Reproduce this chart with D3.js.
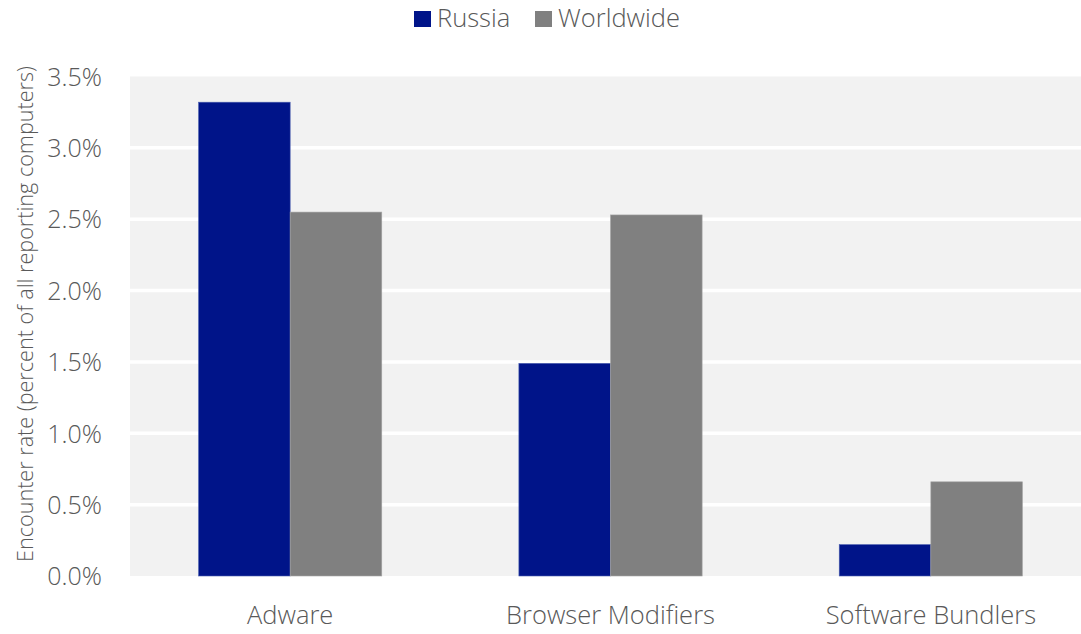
<!DOCTYPE html>
<html><head><meta charset="utf-8">
<script src="https://cdn.jsdelivr.net/npm/d3@7"></script>
<style>body{margin:0;background:#fff}svg text{font-family:"Open Sans","Noto Sans",sans-serif;fill:#595959;font-weight:300}</style>
</head><body><svg id="c" width="1081" height="634"></svg>
<script>
const categories = ["Adware", "Browser Modifiers", "Software Bundlers"];
const seriesNames = ["Russia", "Worldwide"];
const russia = [3.32, 1.49, 0.22];
const worldwide = [2.55, 2.53, 0.66];
const yTicks = [0, 0.5, 1.0, 1.5, 2.0, 2.5, 3.0, 3.5];
const colors = ["#001489", "#808080"];

(function () {
const svg = d3.select("#c");
const mLeft = 130, mRight = 1091, mTop = 76.5, mBottom = 576;
const x = d3.scaleBand().domain(categories).range([mLeft, mRight]).paddingInner(0).paddingOuter(0);
const y = d3.scaleLinear().domain([0, 3.5]).range([mBottom, mTop]);
const bw = x.bandwidth();
const groupW = bw * 0.572;
const xs = d3.scaleBand().domain(seriesNames).range([0, groupW]);

svg.append("rect").attr("x", mLeft).attr("y", mTop).attr("width", 1081 - mLeft).attr("height", mBottom - mTop).attr("fill", "#f2f2f2");

svg.append("g").selectAll("line").data(yTicks.filter(d => d > 0 && d < 3.5)).join("line")
  .attr("x1", mLeft).attr("x2", 1081).attr("y1", d => y(d)).attr("y2", d => y(d))
  .attr("stroke", "#fff").attr("stroke-width", 3.5);

const data = categories.map((c, i) => ({c, vals: [russia[i], worldwide[i]]}));
const g = svg.append("g");
data.forEach(d => {
  const x0 = x(d.c) + (bw - groupW) / 2;
  d.vals.forEach((v, j) => {
    g.append("rect").attr("x", x0 + xs(seriesNames[j])).attr("width", xs.bandwidth())
      .attr("y", y(v)).attr("height", y(0) - y(v)).attr("fill", colors[j])
      .attr("stroke", j === 0 ? "#4b5fb0" : "#a6a6a6").attr("stroke-width", 0.6);
  });
});

const yAxis = d3.axisLeft(y).tickValues(yTicks).tickFormat(d => d.toFixed(1) + "%").tickSize(0).tickPadding(0);
const ya = svg.append("g").attr("transform", `translate(102,0)`).call(yAxis);
ya.select(".domain").remove();
ya.selectAll("text").attr("font-size", 25).attr("dy", "0.35em").attr("font-family", null);

const xAxis = d3.axisBottom(x).tickSize(0).tickPadding(0);
const xa = svg.append("g").attr("transform", `translate(0,${mBottom + 30})`).call(xAxis);
xa.select(".domain").remove();
xa.selectAll("text").attr("font-size", 25.5).attr("dy", "0.71em").attr("font-family", null);

svg.append("text").attr("transform", `translate(33,${314}) rotate(-90)`)
  .attr("text-anchor", "middle").attr("font-size", 21.6).text("Encounter rate (percent of all reporting computers)");

const legend = svg.append("g");
const lx = [414, 535];
seriesNames.forEach((n, i) => {
  legend.append("rect").attr("x", lx[i]).attr("y", 11).attr("width", 17).attr("height", 16).attr("fill", colors[i]);
  legend.append("text").attr("x", lx[i] + 23).attr("y", 27).attr("font-size", 25.5).text(n);
});
})();
</script></body></html>
